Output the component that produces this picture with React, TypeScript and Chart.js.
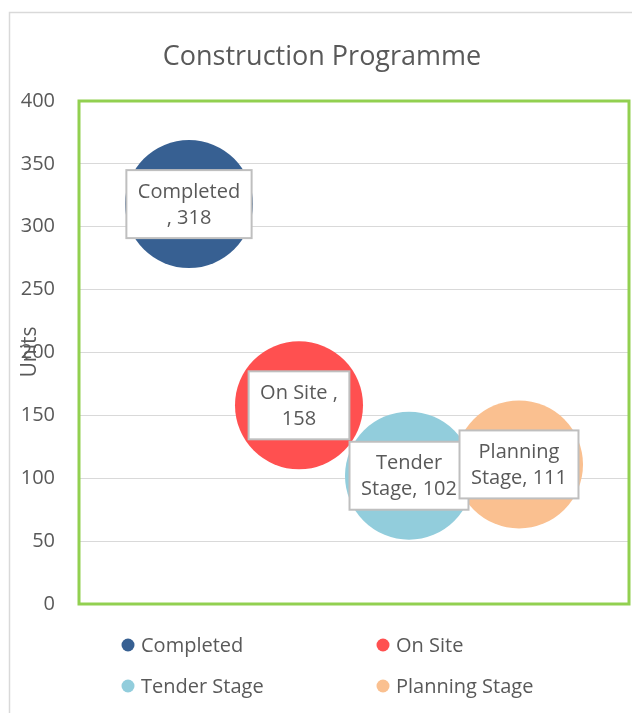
import React, { useEffect, useRef } from "react";
import { Chart, registerables } from "chart.js";

Chart.register(...registerables);

// ---- data ----
const seriesNames = ["Completed ", "On Site ", "Tender Stage", "Planning Stage"];
const xValues = [1, 2, 3, 4];
const unitValues = [318, 158, 102, 111];
const bubbleSizes = [1, 1, 1, 1];
const seriesColors = ["#376092", "#FF5050", "#92CDDC", "#FAC090"];
const yMin = 0;
const yMax = 400;
const yStep = 50;
const chartTitle = "Construction Programme";
const yAxisTitle = "Units";

// ---- styles ----
const FONT = "'Open Sans', sans-serif";
const TEXT = "#595959";
const MAX_R = 64;

function wrapText(ctx: CanvasRenderingContext2D, text: string, maxW: number): string[] {
  const words = text.split(" ").filter((w) => w.length > 0);
  const lines: string[] = [];
  let cur = "";
  for (const w of words) {
    const test = cur ? cur + " " + w : w;
    if (cur && ctx.measureText(test).width > maxW) {
      lines.push(cur);
      cur = w;
    } else {
      cur = test;
    }
  }
  if (cur) lines.push(cur);
  return lines;
}

const decorPlugin = {
  id: "decor",
  beforeDraw(chart: any) {
    const { ctx, width, height } = chart;
    ctx.save();
    ctx.fillStyle = "#ffffff";
    ctx.fillRect(0, 0, width, height);
    // outer chart border (only top/left visible)
    ctx.strokeStyle = "#d9d9d9";
    ctx.lineWidth = 1.5;
    ctx.beginPath();
    ctx.moveTo(9.5, height + 5);
    ctx.lineTo(9.5, 12.5);
    ctx.lineTo(width + 5, 12.5);
    ctx.stroke();
    // title
    ctx.fillStyle = TEXT;
    ctx.font = `27px ${FONT}`;
    ctx.textAlign = "center";
    ctx.textBaseline = "alphabetic";
    ctx.fillText(chartTitle, 322, 65);
    // y axis title
    ctx.save();
    ctx.translate(30, 352);
    ctx.rotate(-Math.PI / 2);
    ctx.font = `21px ${FONT}`;
    ctx.textAlign = "center";
    ctx.textBaseline = "middle";
    ctx.fillText(yAxisTitle, 0, 0);
    ctx.restore();
    ctx.restore();
  },
  afterDatasetsDraw(chart: any) {
    const { ctx, chartArea: a } = chart;
    ctx.save();
    // plot area border
    ctx.strokeStyle = "#92D050";
    ctx.lineWidth = 3;
    ctx.strokeRect(a.left, a.top, a.right - a.left, a.bottom - a.top);
    // data labels
    ctx.font = `20px ${FONT}`;
    const lh = 26;
    chart.data.datasets.forEach((ds: any, i: number) => {
      const el = chart.getDatasetMeta(i).data[0];
      if (!el) return;
      const text = `${seriesNames[i]}, ${unitValues[i]}`;
      const lines = wrapText(ctx, text, 110);
      const w = Math.max(...lines.map((l) => ctx.measureText(l).width)) + 23;
      const h = lines.length * lh + 16;
      const x0 = el.x - w / 2;
      const y0 = el.y - h / 2;
      ctx.fillStyle = "#ffffff";
      ctx.fillRect(x0, y0, w, h);
      ctx.strokeStyle = "#bfbfbf";
      ctx.lineWidth = 2;
      ctx.strokeRect(x0, y0, w, h);
      ctx.fillStyle = TEXT;
      ctx.textAlign = "center";
      ctx.textBaseline = "middle";
      lines.forEach((l, k) => {
        ctx.fillText(l, el.x, el.y - ((lines.length - 1) * lh) / 2 + k * lh + 1);
      });
    });
    ctx.restore();
  },
  afterDraw(chart: any) {
    const { ctx } = chart;
    ctx.save();
    const pos = [
      [128, 645],
      [383, 645],
      [128, 686],
      [383, 686],
    ];
    ctx.font = `20px ${FONT}`;
    ctx.textAlign = "left";
    ctx.textBaseline = "middle";
    chart.data.datasets.forEach((ds: any, i: number) => {
      const [x, y] = pos[i];
      ctx.fillStyle = seriesColors[i];
      ctx.beginPath();
      ctx.arc(x, y, 6.5, 0, Math.PI * 2);
      ctx.fill();
      ctx.fillStyle = TEXT;
      ctx.fillText(ds.label, x + 13, y + 1);
    });
    ctx.restore();
  },
};

export default function App() {
  const ref = useRef<HTMLCanvasElement | null>(null);
  useEffect(() => {
    if (!ref.current) return;
    const maxSize = Math.max(...bubbleSizes);
    const chart = new Chart(ref.current, {
      type: "bubble",
      data: {
        datasets: seriesNames.map((n, i) => ({
          label: n.trim(),
          data: [{ x: xValues[i], y: unitValues[i], r: MAX_R * Math.sqrt(bubbleSizes[i] / maxSize) }],
          backgroundColor: seriesColors[i],
          borderWidth: 0,
          hoverBorderWidth: 0,
        })),
      },
      options: {
        responsive: true,
        maintainAspectRatio: false,
        animation: false,
        events: [],
        layout: { autoPadding: false, padding: { top: 101, bottom: 109, left: 0, right: 3 } },
        plugins: {
          legend: { display: false },
          title: { display: false },
          tooltip: { enabled: false },
        },
        scales: {
          x: { type: "linear", min: 0, max: 5, display: false },
          y: {
            type: "linear",
            min: yMin,
            max: yMax,
            ticks: {
              stepSize: yStep,
              padding: 24,
              color: TEXT,
              font: { family: FONT, size: 20 },
            },
            grid: { color: "#d9d9d9", lineWidth: 1, drawTicks: false },
            border: { display: false },
            afterFit: (s: any) => {
              s.width = 79;
            },
          },
        },
      } as any,
      plugins: [decorPlugin],
    });
    return () => chart.destroy();
  }, []);
  return (
    <div style={{ position: "fixed", left: 0, top: 0, width: 632, height: 713, background: "#fff" }}>
      <canvas ref={ref} />
    </div>
  );
}
